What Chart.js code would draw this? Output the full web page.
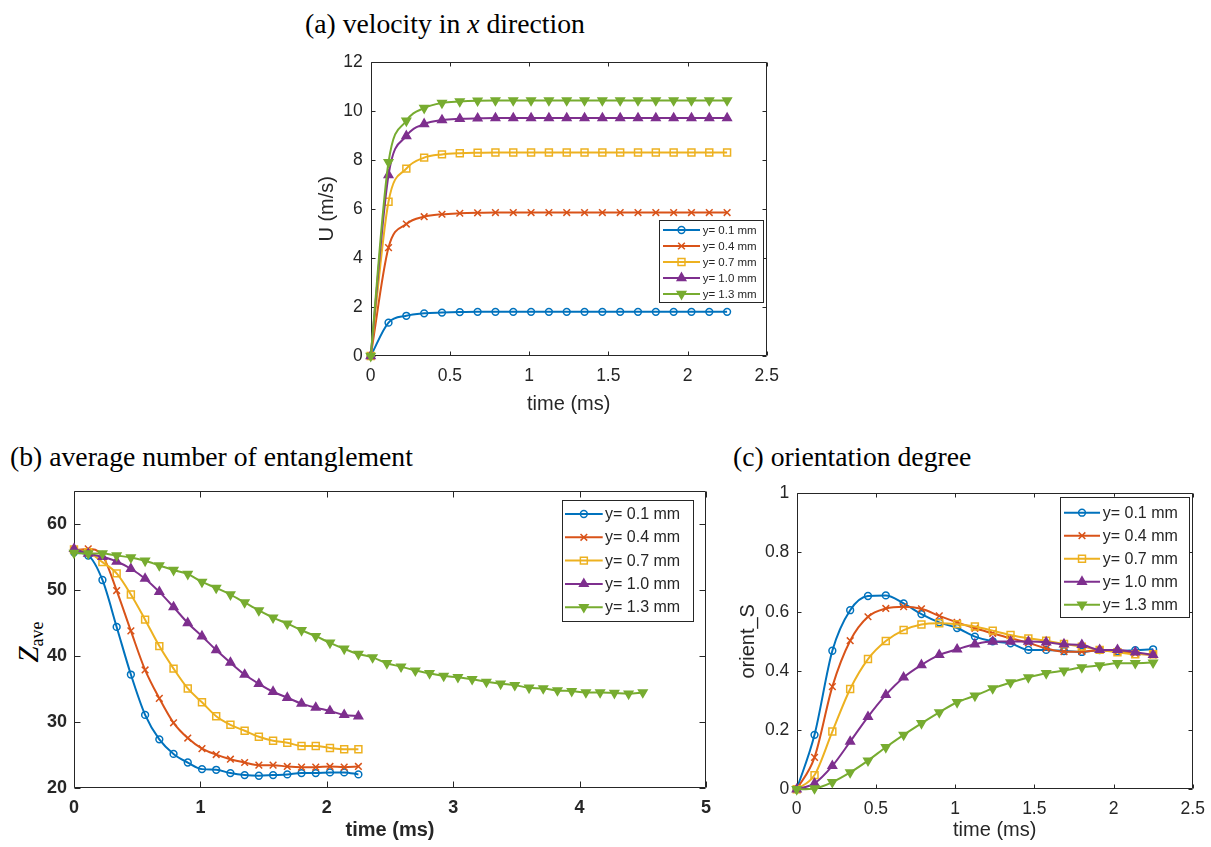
<!DOCTYPE html>
<html>
<head>
<meta charset="utf-8">
<script src="https://cdn.jsdelivr.net/npm/chart.js@4.4.0/dist/chart.umd.min.js"></script>
<style>
body { margin:0; background:#fff; width:1211px; height:847px; position:relative; overflow:hidden; }
canvas { position:absolute; }
.ttl { position:absolute; font-family:"Liberation Serif","Times New Roman",serif; font-size:27.7px; line-height:27px; color:#000; white-space:nowrap; }
#zlabel { position:absolute; left:28px; top:642px; transform:translate(-50%,-50%) rotate(-90deg); font-family:"Liberation Serif","Times New Roman",serif; color:#000; white-space:nowrap; line-height:1; }
</style>
</head>
<body>
<div class="ttl" style="left:305px;top:10px">(a) velocity in <i>x</i> direction</div>
<div class="ttl" style="left:10px;top:443px">(b) average number of entanglement</div>
<div class="ttl" style="left:733px;top:443px">(c) orientation degree</div>
<div id="zlabel"><span style="font-style:italic;font-size:29px">Z</span><span style="font-size:18px;position:relative;top:5px">ave</span></div>

<canvas id="chartA" width="500" height="390" style="left:290px;top:40px"></canvas>
<canvas id="chartB" width="720" height="367" style="left:0px;top:480px"></canvas>
<canvas id="chartC" width="491" height="367" style="left:720px;top:480px"></canvas>

<script>
// time samples (ms)
const time = [0,0.1125,0.225,0.3375,0.45,0.5625,0.675,0.7875,0.9,1.0125,1.125,1.2375,1.35,1.4625,1.575,1.6875,1.8,1.9125,2.025,2.1375,2.25];
const timeLong = [0,0.1125,0.225,0.3375,0.45,0.5625,0.675,0.7875,0.9,1.0125,1.125,1.2375,1.35,1.4625,1.575,1.6875,1.8,1.9125,2.025,2.1375,2.25,
  2.3625,2.475,2.5875,2.7,2.8125,2.925,3.0375,3.15,3.2625,3.375,3.4875,3.6,3.7125,3.825,3.9375,4.05,4.1625,4.275,4.3875,4.5];

const seriesNames = ['y= 0.1 mm','y= 0.4 mm','y= 0.7 mm','y= 1.0 mm','y= 1.3 mm'];

// (a) velocity U (m/s)
const u01 = [0,1.36,1.64,1.74,1.77,1.79,1.8,1.8,1.8,1.8,1.8,1.8,1.8,1.8,1.8,1.8,1.8,1.8,1.8,1.8,1.8];
const u04 = [0,4.42,5.38,5.68,5.78,5.82,5.84,5.85,5.85,5.85,5.85,5.85,5.85,5.85,5.85,5.85,5.85,5.85,5.85,5.85,5.85];
const u07 = [0,6.29,7.64,8.09,8.22,8.27,8.29,8.3,8.3,8.3,8.3,8.3,8.3,8.3,8.3,8.3,8.3,8.3,8.3,8.3,8.3];
const u10 = [0,7.38,8.97,9.46,9.62,9.67,9.69,9.7,9.7,9.7,9.7,9.7,9.7,9.7,9.7,9.7,9.7,9.7,9.7,9.7,9.7];
const u13 = [0,7.9,9.59,10.11,10.32,10.38,10.41,10.42,10.42,10.42,10.42,10.42,10.42,10.42,10.42,10.42,10.42,10.42,10.42,10.42,10.42];

// (b) Z_ave
const z01 = [55.7,55.2,51.5,44.4,37.2,31.1,27.4,25.2,23.9,22.9,22.8,22.3,22.0,21.9,22.0,22.1,22.3,22.3,22.4,22.4,22.1];
const z04 = [56.0,56.2,55.2,49.9,43.8,37.9,33.6,29.9,27.6,26.0,25.1,24.4,23.9,23.5,23.5,23.3,23.2,23.2,23.3,23.2,23.3];
const z07 = [56.1,55.7,54.2,52.5,49.3,45.5,41.5,38.1,35.1,33.0,30.9,29.6,28.7,27.8,27.2,26.9,26.4,26.4,26.1,25.9,25.9];
const z10 = [56.2,55.5,55.0,54.3,53.2,51.7,49.7,47.4,45.0,43.0,40.9,39.0,37.2,35.8,34.6,33.7,32.8,32.2,31.7,31.1,30.9];
const z13 = [55.6,55.5,55.5,55.2,54.9,54.4,53.7,53.0,52.4,51.2,50.3,49.3,48.1,46.9,45.8,44.9,43.9,43.0,42.0,41.1,40.3,
  39.8,38.9,38.4,37.8,37.4,37.0,36.8,36.5,36.1,35.8,35.6,35.2,35.1,34.8,34.7,34.5,34.5,34.4,34.3,34.5];

// (c) orient_S
const s01 = [0,0.184,0.468,0.605,0.653,0.655,0.628,0.592,0.564,0.545,0.516,0.5,0.493,0.471,0.471,0.467,0.464,0.47,0.467,0.47,0.473];
const s04 = [0,0.108,0.347,0.502,0.583,0.611,0.617,0.61,0.586,0.564,0.544,0.527,0.51,0.495,0.476,0.465,0.465,0.47,0.465,0.459,0.454];
const s07 = [0,0.048,0.195,0.339,0.44,0.501,0.538,0.557,0.561,0.558,0.55,0.536,0.521,0.51,0.502,0.491,0.482,0.471,0.463,0.456,0.456];
const s10 = [0,0.02,0.079,0.161,0.245,0.319,0.378,0.42,0.454,0.473,0.49,0.499,0.499,0.499,0.497,0.49,0.488,0.471,0.471,0.463,0.454];
const s13 = [0,0.003,0.024,0.057,0.097,0.142,0.184,0.223,0.26,0.294,0.316,0.341,0.361,0.378,0.392,0.401,0.412,0.418,0.426,0.426,0.428];

const colors = ['#0072BD','#D95319','#EDB120','#7E2F8E','#77AC30'];
const markers = [
  {style:'circle', r:3.4, rot:0, filled:false},
  {style:'crossRot', r:4.7, rot:0, filled:false},
  {style:'rect', r:4.9, rot:0, filled:false},
  {style:'triangle', r:4.9, rot:0, filled:true},
  {style:'triangle', r:4.9, rot:180, filled:true}
];
const sansFont = '"Liberation Sans", Arial, Helvetica, sans-serif';
const axisColor = '#262626';

// xsList: one time array per series
function makeSets(xsList, list) {
  return list.map((vals, i) => ({
    label: seriesNames[i],
    data: vals.map((v, k) => ({x: xsList[i][k], y: v})),
    borderColor: colors[i],
    borderWidth: 2,
    cubicInterpolationMode: 'monotone',
    pointStyle: markers[i].style,
    pointRadius: markers[i].r,
    pointHoverRadius: markers[i].r,
    pointRotation: markers[i].rot,
    pointBorderWidth: 1.5,
    pointBorderColor: colors[i],
    pointBackgroundColor: markers[i].filled ? colors[i] : 'rgba(255,255,255,0)',
    clip: false,
    order: 4 - i
  }));
}

const fmt = v => String(Math.round(v * 1000) / 1000);

// box, inward ticks, legend (MATLAB style)
const matlabAxes = {
  id: 'matlabAxes',
  beforeDatasetsDraw(chart, args, opts) {
    const {ctx, chartArea: a, scales} = chart;
    const L = Math.round(a.left) + 0.5, R = Math.round(a.right) - 0.5;
    const T = Math.round(a.top) + 0.5, B = Math.round(a.bottom) - 0.5;
    ctx.save();
    ctx.strokeStyle = axisColor;
    ctx.lineWidth = 1;
    ctx.beginPath();
    ctx.rect(L, T, R - L, B - T);
    scales.x.ticks.forEach(t => {
      const p = Math.round(scales.x.getPixelForValue(t.value)) + 0.5;
      ctx.moveTo(p, B); ctx.lineTo(p, B - opts.tick);
      ctx.moveTo(p, T); ctx.lineTo(p, T + opts.tick);
    });
    scales.y.ticks.forEach(t => {
      const p = Math.round(scales.y.getPixelForValue(t.value)) + 0.5;
      ctx.moveTo(L, p); ctx.lineTo(L + opts.tick, p);
      ctx.moveTo(R, p); ctx.lineTo(R - opts.tick, p);
    });
    ctx.stroke();
    ctx.restore();
  },
  afterDraw(chart, args, opts) {
    const lg = opts.legend;
    const {ctx, chartArea: a} = chart;
    const bx = a.left + lg.x, by = a.top + lg.y;
    ctx.save();
    ctx.fillStyle = '#fff';
    ctx.fillRect(bx, by, lg.w, lg.h);
    ctx.strokeStyle = '#262626';
    ctx.lineWidth = 1;
    ctx.strokeRect(Math.round(bx) + 0.5, Math.round(by) + 0.5, Math.round(lg.w), Math.round(lg.h));
    ctx.font = lg.font + 'px ' + sansFont;
    ctx.textBaseline = 'middle';
    ctx.textAlign = 'left';
    chart.data.datasets.forEach((ds, i) => {
      const cy = by + lg.first + i * lg.row;
      const x0 = bx + lg.lineX, x1 = x0 + lg.lineLen;
      ctx.strokeStyle = ds.borderColor;
      ctx.lineWidth = ds.borderWidth;
      ctx.beginPath(); ctx.moveTo(x0, cy); ctx.lineTo(x1, cy); ctx.stroke();
      ctx.fillStyle = ds.pointBackgroundColor;
      ctx.strokeStyle = ds.pointBorderColor;
      ctx.lineWidth = ds.pointBorderWidth;
      Chart.helpers.drawPoint(ctx, {pointStyle: ds.pointStyle, rotation: ds.pointRotation, radius: ds.pointRadius, borderWidth: ds.pointBorderWidth}, (x0 + x1) / 2, cy);
      ctx.fillStyle = axisColor;
      ctx.fillText(ds.label, bx + lg.textX, cy + 0.5);
    });
    ctx.restore();
  }
};

function buildChart(id, cfg) {
  return new Chart(document.getElementById(id), {
    type: 'line',
    data: {datasets: cfg.datasets},
    plugins: [matlabAxes],
    options: {
      responsive: false,
      animation: false,
      devicePixelRatio: 1,
      layout: {padding: cfg.padding},
      plugins: {
        legend: {display: false},
        tooltip: {enabled: false},
        matlabAxes: {tick: cfg.tick, legend: cfg.legend}
      },
      scales: {
        x: {
          type: 'linear', min: cfg.xMin, max: cfg.xMax,
          grid: {display: false, drawTicks: false}, border: {display: false},
          ticks: {stepSize: cfg.xStep, color: axisColor, padding: cfg.xTickPad, maxRotation: 0, autoSkip: false, callback: fmt,
                  font: {family: sansFont, size: cfg.tickSize, weight: cfg.bold ? 'bold' : 'normal'}},
          title: {display: true, text: 'time (ms)', color: axisColor, padding: {top: 0, bottom: cfg.xTitlePad},
                  font: {family: sansFont, size: 20, weight: cfg.bold ? 'bold' : 'normal'}},
          afterFit: s => { s.height = cfg.xHeight; s.paddingLeft = 0; s.paddingRight = 0; }
        },
        y: {
          type: 'linear', min: cfg.yMin, max: cfg.yMax,
          grid: {display: false, drawTicks: false}, border: {display: false},
          ticks: {stepSize: cfg.yStep, color: axisColor, padding: cfg.yTickPad, autoSkip: false, callback: fmt,
                  font: {family: sansFont, size: cfg.tickSize, weight: cfg.bold ? 'bold' : 'normal'}},
          title: {display: cfg.yTitle !== '', text: cfg.yTitle, color: axisColor, padding: {top: cfg.yTitlePad, bottom: 0},
                  font: {family: sansFont, size: 20}},
          afterBuildTicks: s => { s.ticks = s.ticks.filter(t => t.value <= cfg.yLastTick + 1e-9); },
          afterFit: s => { s.width = cfg.yWidth; s.paddingTop = 0; s.paddingBottom = 0; }
        }
      }
    }
  });
}

const same = [time, time, time, time, time];

buildChart('chartA', {
  datasets: makeSets(same, [u01, u04, u07, u10, u13]),
  padding: {left: 0, top: 21.7, right: 23.3, bottom: 0},
  xMin: 0, xMax: 2.5, xStep: 0.5, yMin: 0, yMax: 12, yStep: 2, yLastTick: 12,
  tickSize: 17.5, bold: false, xTickPad: 10, yTickPad: 8,
  xTitlePad: 14, yTitle: 'U (m/s)', yTitlePad: 25,
  xHeight: 74, yWidth: 80.7, tick: 4,
  legend: {x: 288.6, y: 158.3, w: 104, h: 82.3, first: 10, row: 16, lineX: 3.7, lineLen: 37, textX: 43.4, font: 11.5}
});

buildChart('chartB', {
  datasets: makeSets([time, time, time, time, timeLong], [z01, z04, z07, z10, z13]),
  padding: {left: 0, top: 10.7, right: 14, bottom: 0},
  xMin: 0, xMax: 5, xStep: 1, yMin: 20, yMax: 65, yStep: 10, yLastTick: 60,
  tickSize: 18, bold: true, xTickPad: 9, yTickPad: 7,
  xTitlePad: 5, yTitle: '', yTitlePad: 0,
  xHeight: 58.7, yWidth: 74, tick: 6,
  legend: {x: 487.7, y: 9.3, w: 131.3, h: 121, first: 14, row: 23.3, lineX: 3.3, lineLen: 37.7, textX: 43.3, font: 16}
});

buildChart('chartC', {
  datasets: makeSets(same, [s01, s04, s07, s10, s13]),
  padding: {left: 0, top: 13.3, right: 18.3, bottom: 0},
  xMin: 0, xMax: 2.5, xStep: 0.5, yMin: 0, yMax: 1, yStep: 0.2, yLastTick: 1,
  tickSize: 17.5, bold: false, xTickPad: 9, yTickPad: 7.4,
  xTitlePad: 5, yTitle: 'orient_S', yTitlePad: 16,
  xHeight: 57.7, yWidth: 76.7, tick: 4,
  legend: {x: 263.3, y: 3.4, w: 129, h: 120, first: 16, row: 23, lineX: 4, lineLen: 36, textX: 42.7, font: 16}
});
</script>
</body>
</html>
